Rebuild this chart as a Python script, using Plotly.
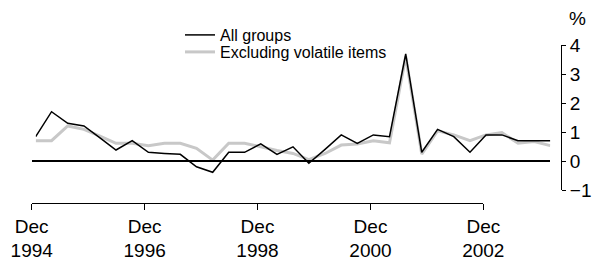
import pandas as pd
import plotly.graph_objects as go

# Quarterly data, Dec 1994 to Dec 2002
quarters = pd.date_range("1994-12-01", periods=33, freq="3MS")
all_groups = [0.84, 1.70, 1.30, 1.21, 0.80, 0.38, 0.70, 0.30, 0.26, 0.23, -0.20,
              -0.39, 0.30, 0.30, 0.59, 0.23, 0.49, -0.08, 0.40, 0.90, 0.61, 0.90,
              0.84, 3.69, 0.30, 1.09, 0.84, 0.30, 0.90, 0.90, 0.70, 0.70, 0.70]
excl_volatile = [0.70, 0.70, 1.21, 1.09, 0.86, 0.61, 0.61, 0.53, 0.61, 0.61, 0.44,
                 0.03, 0.61, 0.61, 0.49, 0.36, 0.26, 0.05, 0.26, 0.55, 0.59, 0.70,
                 0.63, 3.60, 0.24, 1.04, 0.90, 0.70, 0.90, 0.98, 0.61, 0.67, 0.53]
tick_dates = ["1994-12-01", "1996-12-01", "1998-12-01", "2000-12-01", "2002-12-01"]
tick_labels = ["Dec<br>1994", "Dec<br>1996", "Dec<br>1998", "Dec<br>2000", "Dec<br>2002"]
y_ticks = [-1, 0, 1, 2, 3, 4]

W, H = 595, 262
FONT = "Liberation Sans, Arial, sans-serif"

fig = go.Figure()
fig.add_trace(go.Scatter(x=quarters, y=excl_volatile, mode="lines",
                         name="Excluding volatile items", legend="legend2",
                         line=dict(color="#c8c8c8", width=3)))
fig.add_trace(go.Scatter(x=quarters, y=all_groups, mode="lines",
                         name="All groups", legend="legend",
                         line=dict(color="#000000", width=1.5)))
# helper trace for the labelled time axis
fig.add_trace(go.Scatter(x=tick_dates, y=[None] * len(tick_dates), xaxis="x2",
                         yaxis="y", showlegend=False, hoverinfo="skip",
                         mode="lines"))

legend_style = dict(xanchor="left", yanchor="middle", bgcolor="rgba(0,0,0,0)",
                    borderwidth=0, font=dict(size=16, family=FONT))

fig.update_layout(
    template="none",
    width=W, height=H, autosize=False,
    margin=dict(l=0, r=0, t=0, b=0, pad=0),
    paper_bgcolor="white", plot_bgcolor="rgba(0,0,0,0)",
    font=dict(family=FONT, color="black"),
    showlegend=True,
    legend=dict(x=180 / W, y=1 - 35 / H, **legend_style),
    legend2=dict(x=180 / W, y=1 - 52 / H, **legend_style),
    xaxis=dict(domain=[35.7 / W, 550.3 / W],
               range=[quarters[0], quarters[-1]], automargin=False,
               visible=False, showgrid=False, zeroline=False),
    xaxis2=dict(domain=[31.7 / W, 483.3 / W], anchor="free",
                position=1 - 202.7 / H, type="date",
                range=[tick_dates[0], tick_dates[-1]], automargin=False,
                tickmode="array", tickvals=tick_dates, ticktext=tick_labels,
                ticks="outside", ticklen=6, tickcolor="black", tickwidth=1,
                showline=True, linecolor="black", linewidth=1,
                showgrid=False, zeroline=False,
                tickfont=dict(size=19, family=FONT)),
    yaxis=dict(domain=[1 - 190 / H, 1 - 45 / H], range=[-1, 4],
               side="right", anchor="free", position=561 / W, automargin=False,
               tickmode="array", tickvals=y_ticks,
               ticks="outside", ticklen=4, tickcolor="black", tickwidth=1,
               showline=True, linecolor="black", linewidth=1,
               showgrid=False, zeroline=True, zerolinecolor="black",
               zerolinewidth=1.5,
               tickfont=dict(size=19, family=FONT)),
    annotations=[dict(text="%", x=577.5 / W, y=1 - 19 / H, xref="paper",
                      yref="paper", showarrow=False, xanchor="center",
                      yanchor="middle", font=dict(size=19, family=FONT))],
)

fig.write_html("out.html", config={"displayModeBar": False},
               post_script="document.body.style.margin='0';"
                           "document.body.style.overflow='hidden';")
